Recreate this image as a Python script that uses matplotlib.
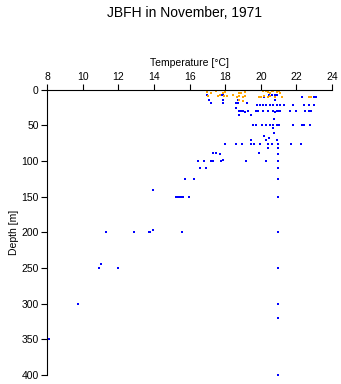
import matplotlib
matplotlib.use("Agg")
import matplotlib.pyplot as plt

plt.rcParams['font.family'] = ['Liberation Sans', 'DejaVu Sans']

# ── data ──────────────────────────────────────────────────────────────────
# near-surface samples (orange)
surf_temp = [17.0, 17.5, 17.9, 18.0, 18.8, 19.1, 20.1, 20.4, 20.5, 20.9, 21.1,
             17.05, 17.6, 17.7, 17.95, 18.1, 18.45, 18.65, 18.8, 19.0, 19.1,
             19.9, 20.0, 20.15, 20.4, 20.5, 20.8, 21.2, 22.7, 22.8, 18.8, 19.0,
             20.3, 20.6, 20.7, 21.0, 17.2, 18.9]
surf_depth = [3, 2, 4, 3, 4, 3, 2, 3, 4, 3, 4,
              8, 9, 7, 8, 9, 7, 10, 9, 10, 8,
              10, 10, 9, 10, 9, 10, 10, 10, 10, 14, 16,
              1, 2, 1, 2, 5, 5]

# profile samples (blue)
prof_temp = [22.7, 22.9, 23.1,
             16.95, 17.75, 17.85, 20.45, 20.6, 20.8, 20.9,
             22.3, 23.0, 23.1, 20.2,
             17.1, 17.9, 18.7, 20.8,
             17.2, 17.85, 18.6, 18.7, 19.2,
             19.8, 19.95, 20.1, 20.3, 20.5, 20.7, 20.9, 21.1, 21.3, 21.8, 22.4, 22.7, 23.0,
             18.6,
             18.75, 18.9, 19.0, 19.1, 19.3, 19.75, 19.85, 20.13, 20.4, 20.7, 20.8,
             20.9, 21.0, 21.1, 21.65, 22.0, 22.5, 22.7, 22.8,
             18.8, 19.45,
             20.75,
             19.55, 19.75, 20.05, 20.3, 20.5, 20.7, 20.9, 21.0, 21.8, 22.3, 22.4, 22.75,
             20.7, 20.72, 20.15,
             19.47, 20.3, 20.45, 20.9,
             17.99, 18.63, 18.94, 19.47, 19.6, 19.94, 20.4, 20.6, 20.97, 21.7, 22.28,
             20.4, 20.97,
             17.3, 17.5, 17.7, 19.9, 20.97,
             16.47, 16.8, 17.2, 17.3, 17.75, 17.85, 19.15, 20.28, 20.97,
             16.57, 16.9, 20.97,
             15.76, 16.23, 20.97,
             13.95,
             15.26, 15.35, 15.45, 15.55, 15.65, 15.99, 20.97,
             11.29, 12.88, 13.7, 13.8, 13.95, 15.57, 20.97,
             10.91, 11.04, 11.98, 20.97,
             9.73, 20.97,
             20.97,
             8.1,
             20.97]
prof_depth = [0, 0, 0,
              7, 7, 7, 7, 7, 7, 7,
              10, 10, 10, 10,
              14, 14, 14, 14,
              19, 19, 19, 19, 19,
              21, 21, 21, 21, 21, 21, 21, 21, 21, 21, 21, 21, 21,
              26,
              30, 30, 29, 31, 30, 30, 30, 30, 30, 30, 31,
              30, 30, 30, 30, 30, 30, 30, 30,
              35, 35,
              41,
              50, 50, 50, 50, 50, 50, 50, 50, 50, 50, 50, 50,
              54, 60, 65,
              70, 70, 68, 70,
              76, 76, 76, 76, 76, 76, 76, 76, 76, 76, 76,
              82, 82,
              88, 89, 90, 89, 90,
              100, 100, 100, 100, 100, 99, 100, 100, 100,
              110, 110, 110,
              125, 125, 125,
              140,
              150, 150, 150, 150, 150, 150, 150,
              200, 200, 200, 200, 197, 200, 200,
              250, 245, 250, 250,
              300, 300,
              320,
              350,
              400]

x_ticks = [8, 10, 12, 14, 16, 18, 20, 22, 24]
y_ticks = [0, 50, 100, 150, 200, 250, 300, 350, 400]

# ── figure ─────────────────────────────────────────────────────────────────
fig = plt.figure(figsize=(3.41, 3.84), dpi=100)
ax = fig.add_axes([0.138, 0.024, 0.836, 0.742])

ax.scatter(prof_temp, prof_depth, marker="s", s=4.2, c="#0000ff", linewidths=0)
ax.scatter(surf_temp, surf_depth, marker="s", s=4.2, c="#ffa500", linewidths=0)

ax.set_xlim(8, 24)
ax.set_ylim(400, 0)
ax.set_xticks(x_ticks)
ax.set_yticks(y_ticks)
ax.xaxis.tick_top()
ax.xaxis.set_label_position("top")
ax.tick_params(labelsize=7.5, length=4, width=0.8, pad=2)
ax.set_xlabel("Temperature [\u00b0C]", fontsize=7.5, labelpad=4)
ax.set_ylabel("Depth [m]", fontsize=7.5, labelpad=2)
for side in ("right", "bottom"):
    ax.spines[side].set_visible(False)
for side in ("left", "top"):
    ax.spines[side].set_linewidth(0.8)

fig.text(0.54, 0.967, "JBFH in November, 1971", ha="center", va="center", fontsize=10)

fig.savefig("out.png", dpi=100, facecolor="white")
